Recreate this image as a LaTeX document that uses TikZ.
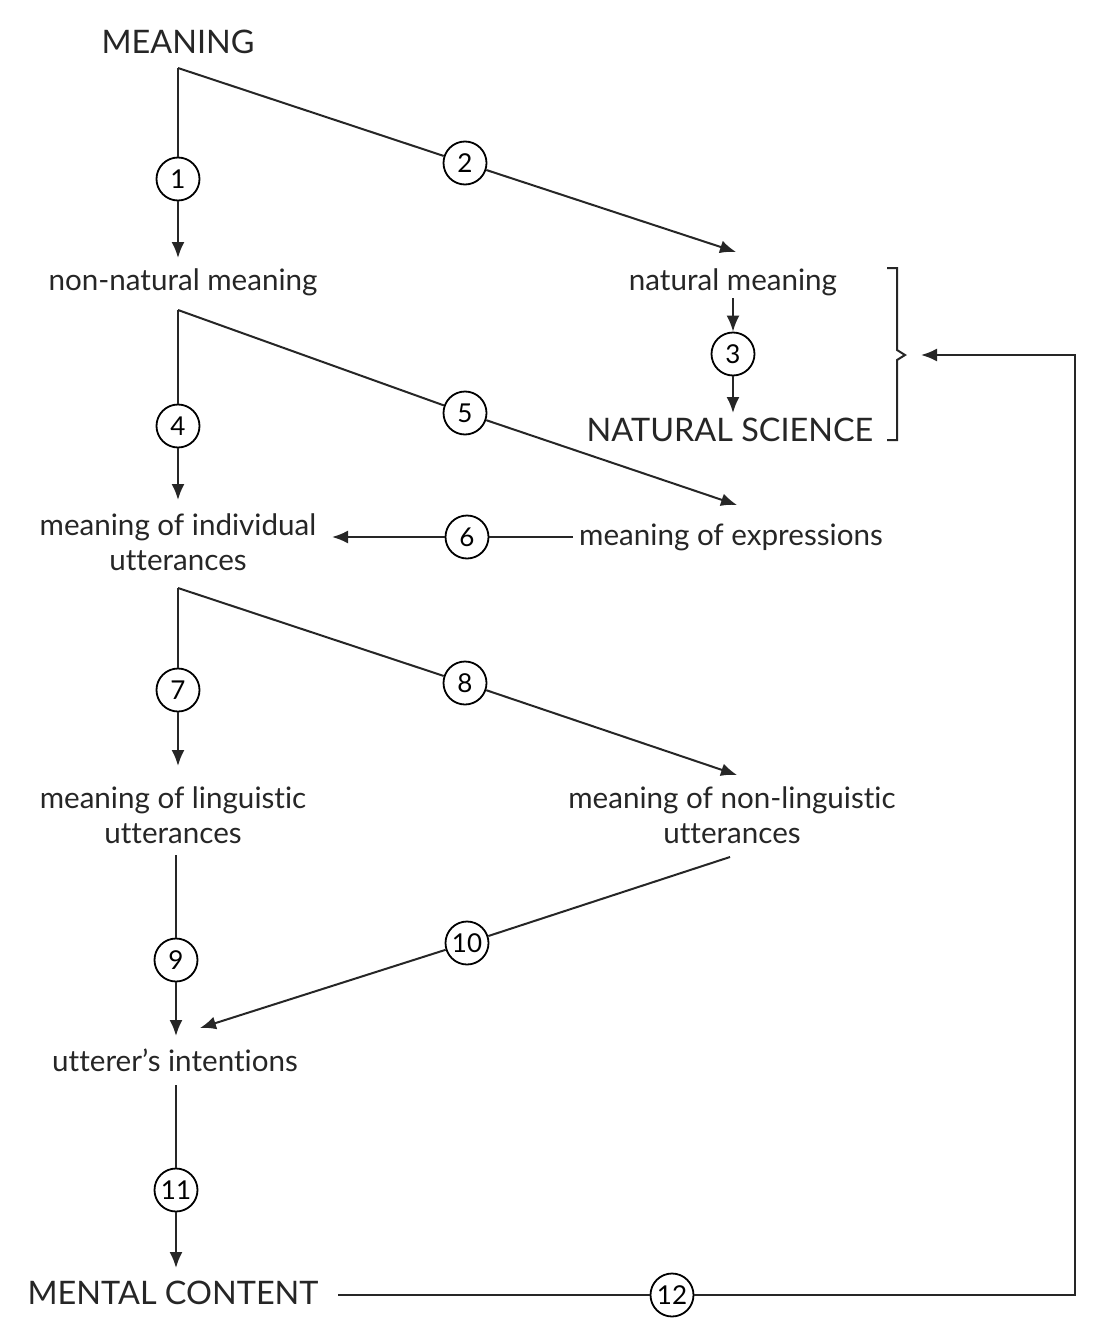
\documentclass[tikz,border=0pt]{standalone}
\usepackage{fontspec}
\setmainfont[Ligatures=NoCommon]{Lato}
\usetikzlibrary{arrows.meta}
\begin{document}
\begin{tikzpicture}[x=0.5pt,y=-0.5pt,
  lbl/.style={font=\fontsize{14.8}{17.5}\selectfont, align=center, inner sep=0pt, text=black!85},
  capslbl/.style={font=\fontsize{16.2}{18}\selectfont, inner sep=0pt, text=black!85},
  num/.style={circle, draw, line width=0.9pt, minimum size=21.5pt, inner sep=0pt, fill=white, font=\fontsize{13}{13}\selectfont},
  ln/.style={line width=1pt, black!85},
  arr/.style={ln, -{Latex[length=8pt,width=6.5pt]}}]
\useasboundingbox (0,0) rectangle (1092,1338);
% text nodes
\node[capslbl] (meaning) at (178,42) {MEANING};
\node[lbl] (nonnat) at (183,282) {non-natural meaning};
\node[lbl] (nat) at (733,282) {natural meaning};
\node[capslbl] (sci) at (730,430) {NATURAL SCIENCE};
\node[lbl] (indiv) at (178,542) {meaning of individual\\utterances};
\node[lbl] (expr) at (731,537) {meaning of expressions};
\node[lbl] (ling) at (173,815) {meaning of linguistic\\utterances};
\node[lbl] (nonling) at (732,815) {meaning of non-linguistic\\utterances};
\node[lbl] (utt) at (175,1060) {utterer's intentions};
\node[capslbl] (mental) at (173,1293) {MENTAL CONTENT};
% numbered circles
\node[num] (c1) at (178,179) {1};
\node[num] (c2) at (465,163) {2};
\node[num] (c3) at (733,354) {3};
\node[num] (c4) at (178,426) {4};
\node[num] (c5) at (465,413) {5};
\node[num] (c6) at (467,537) {6};
\node[num] (c7) at (178,690) {7};
\node[num] (c8) at (465,683) {8};
\node[num] (c9) at (176,960) {9};
\node[num] (c10) at (467,943) {10};
\node[num] (c11) at (176,1190) {11};
\node[num] (c12) at (672,1295) {12};
% junction coordinates and tips
\coordinate (j1) at (178,68);
\coordinate (t1) at (178,258);
\coordinate (t2) at (736,252);
\coordinate (s3) at (733,298);
\coordinate (t3) at (733,413);
\coordinate (j2) at (178,310);
\coordinate (t4) at (178,500);
\coordinate (t5) at (737,505);
\coordinate (s6) at (573,537);
\coordinate (t6) at (332,537);
\coordinate (j3) at (178,588);
\coordinate (t7) at (178,766);
\coordinate (t8) at (737,775);
\coordinate (s9) at (176,855);
\coordinate (t9) at (176,1036);
\coordinate (s10) at (730,857);
\coordinate (t10) at (200,1028);
\coordinate (s11) at (176,1085);
\coordinate (t11) at (176,1268);
\coordinate (s12) at (338,1295);
\coordinate (k1) at (1075,1295);
\coordinate (k2) at (1075,355);
\coordinate (t12) at (921,355);
% connectors
\draw[ln] (j1) -- (c1); \draw[arr] (c1) -- (t1);
\draw[ln] (j1) -- (c2); \draw[arr] (c2) -- (t2);
\draw[arr] (s3) -- (c3); \draw[arr] (c3) -- (t3);
\draw[ln] (j2) -- (c4); \draw[arr] (c4) -- (t4);
\draw[ln] (j2) -- (c5); \draw[arr] (c5) -- (t5);
\draw[ln] (s6) -- (c6); \draw[arr] (c6) -- (t6);
\draw[ln] (j3) -- (c7); \draw[arr] (c7) -- (t7);
\draw[ln] (j3) -- (c8); \draw[arr] (c8) -- (t8);
\draw[ln] (s9) -- (c9); \draw[arr] (c9) -- (t9);
\draw[ln] (s10) -- (c10); \draw[arr] (c10) -- (t10);
\draw[ln] (s11) -- (c11); \draw[arr] (c11) -- (t11);
\draw[ln] (s12) -- (c12); \draw[arr] (c12) -- (k1) -- (k2) -- (t12);
% bracket
\draw[ln] (887,268) -- (897,268) -- (897,350) -- (905,355) -- (897,360) -- (897,440) -- (887,440);
\end{tikzpicture}
\end{document}
